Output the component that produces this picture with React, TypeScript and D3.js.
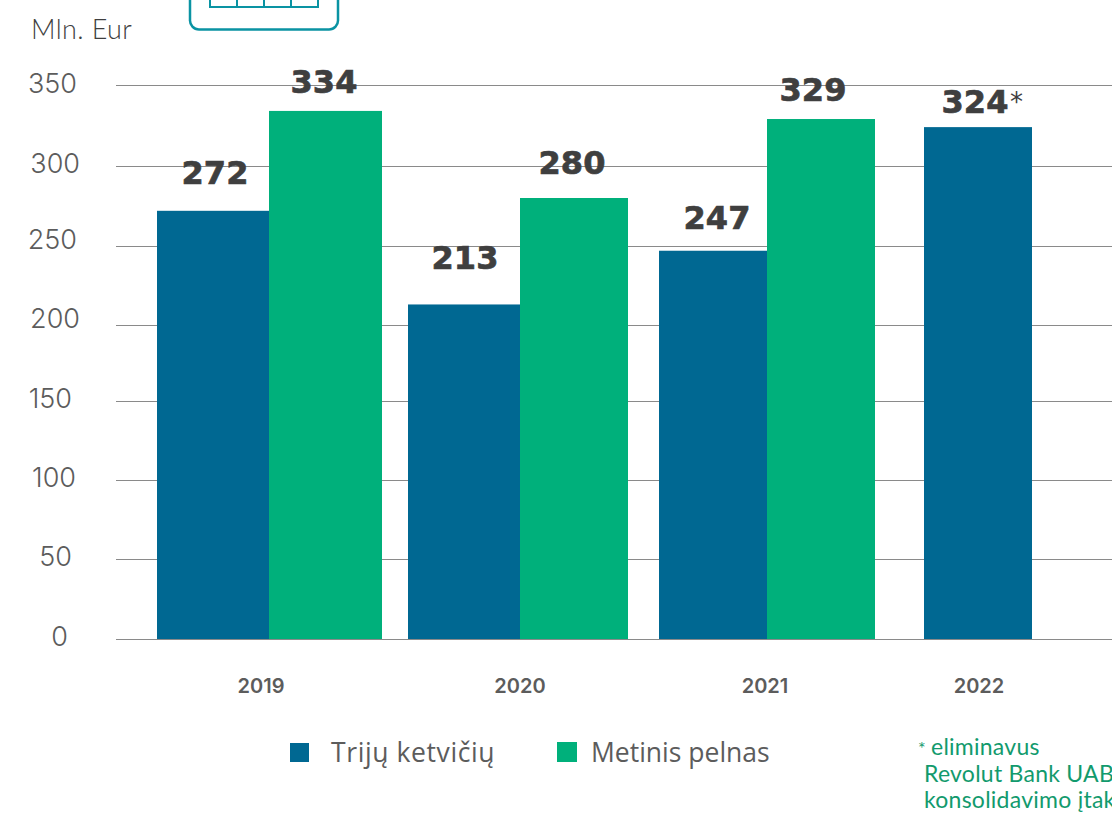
import React from "react";
import * as d3 from "d3";

const years = ["2019", "2020", "2021", "2022"];
const threeQuarters = [272, 213, 247, 324];
const annualProfit: (number | null)[] = [334, 280, 329, null];
const yTicks = [0, 50, 100, 150, 200, 250, 300, 350];
const legendItems = ["Trijų ketvičių", "Metinis pelnas"];
const footnoteLines = ["eliminavus", "Revolut Bank UAB", "konsolidavimo įtakos"];

const BLUE = "#006892";
const GREEN = "#00b07b";
const TEAL = "#0a93a3";
const DARK = "#3f3f3f";
const MUTED = "#5c5c5c";
const SANS = "Lato, 'Open Sans', sans-serif";
const WIDE = "Inter, 'Open Sans', sans-serif";
const HEAVY = "'DejaVu Sans', sans-serif";

// The axis is hand-spaced, so the scale runs through each tick's own pixel row.
const y = d3.scaleLinear().domain(yTicks).range([639, 559, 480, 401, 325, 246, 166, 85]);
const tickBaseline = d3.scaleOrdinal<number, number>().domain(yTicks).range([646, 566, 487, 408, 328, 249, 173, 93]);
const tickRight = d3.scaleOrdinal<number, number>().domain(yTicks).range([69, 73, 77, 73, 81, 78, 81, 78]);

const groupCenter = d3.scaleOrdinal<string, number>().domain(years).range([269, 520, 767, 978]);
const blueWidth = d3.scaleOrdinal<string, number>().domain(years).range([112, 112, 108, 108]);
const greenWidth = d3.scaleOrdinal<string, number>().domain(years).range([113, 108, 108, 0]);
const yearCenter = d3.scaleOrdinal<string, number>().domain(years).range([261, 520, 765, 979]);

// Value labels sit at differing heights and offsets around their bars.
const blueLabelBaseline = d3.scaleOrdinal<string, number>().domain(years).range([184, 269, 229, 113]);
const greenLabelBaseline = d3.scaleOrdinal<string, number>().domain(years).range([93, 174, 101, 0]);
const blueLabelCenter = d3.scaleOrdinal<string, number>().domain(years).range([215, 465, 717, 975]);
const greenLabelCenter = d3.scaleOrdinal<string, number>().domain(years).range([324, 572, 813, 0]);

function ValueLabel({ x, y: baseline, value }: { x: number; y: number; value: number }) {
  return (
    <text
      x={x}
      y={baseline}
      textAnchor="middle"
      fontFamily={HEAVY}
      fontSize={32}
      fontWeight={700}
      fill={DARK}
      stroke={DARK}
      strokeWidth={0.7}
    >
      {value}
    </text>
  );
}

export default function App() {
  return (
    <svg
      width={1112}
      height={813}
      viewBox="0 0 1112 813"
      style={{ position: "absolute", left: 0, top: 0, background: "#fff" }}
    >
      {/* Badge cut off by the top edge */}
      <g fill="none" stroke={TEAL}>
        <path d="M190 -10V20a9 9 0 0 0 9 9.5H329a9 9 0 0 0 9 -9.5V-10" strokeWidth={2.5} />
        <path d="M210 -5V7H318V-5M237 -5V7M264 -5V7M291 -5V7" strokeWidth={2} />
      </g>

      <text x={31} y={39} fontFamily={SANS} fontSize={27} fontWeight={300} letterSpacing={0.4} fill={DARK}>
        Mln. Eur
      </text>

      {yTicks.map((t) => (
        <g key={t}>
          <line x1={116} x2={1112} y1={y(t) + 0.5} y2={y(t) + 0.5} stroke="#8a8a8a" strokeWidth={1} />
          <text
            x={tickRight(t) - 1}
            y={tickBaseline(t)}
            textAnchor="end"
            fontFamily={WIDE}
            fontSize={27}
            fontWeight={300}
            fill={MUTED}
          >
            {t}
          </text>
        </g>
      ))}

      {years.map((yr, i) => {
        const c = groupCenter(yr);
        const w = blueWidth(yr);
        const blue = threeQuarters[i];
        const green = annualProfit[i];
        const bx = green === null ? c - w / 2 : c - w;
        return (
          <g key={yr}>
            <rect x={bx} y={y(blue)} width={w} height={y(0) - y(blue)} fill={BLUE} />
            <ValueLabel x={blueLabelCenter(yr)} y={blueLabelBaseline(yr)} value={blue} />
            {green === null && (
              <text x={1010} y={111} fontFamily={HEAVY} fontSize={26} fontWeight={400} fill={DARK}>
                *
              </text>
            )}
            {green !== null && (
              <>
                <rect x={c} y={y(green)} width={greenWidth(yr)} height={y(0) - y(green)} fill={GREEN} />
                <ValueLabel x={greenLabelCenter(yr)} y={greenLabelBaseline(yr)} value={green} />
              </>
            )}
            <text
              x={yearCenter(yr)}
              y={693}
              textAnchor="middle"
              fontFamily={WIDE}
              fontSize={20}
              fontWeight={600}
              fill={MUTED}
            >
              {yr}
            </text>
          </g>
        );
      })}

      <rect x={290} y={743} width={19} height={19} fill={BLUE} />
      <text x={331} y={762} fontFamily="'Open Sans', sans-serif" fontSize={26.5} letterSpacing={0.6} fill={MUTED}>
        {legendItems[0]}
      </text>
      <rect x={557} y={742} width={20} height={20} fill={GREEN} />
      <text x={591} y={762} fontFamily="'Open Sans', sans-serif" fontSize={26.5} fill={MUTED}>
        {legendItems[1]}
      </text>

      <g fontFamily={SANS} fontSize={23} fontWeight={400} letterSpacing={0.25} fill="#129a6d">
        <text x={918} y={755} fontSize={18}>*</text>
        <text x={931} y={755}>{footnoteLines[0]}</text>
        <text x={924} y={782}>{footnoteLines[1]}</text>
        <text x={924} y={808}>{footnoteLines[2]}</text>
      </g>
    </svg>
  );
}
